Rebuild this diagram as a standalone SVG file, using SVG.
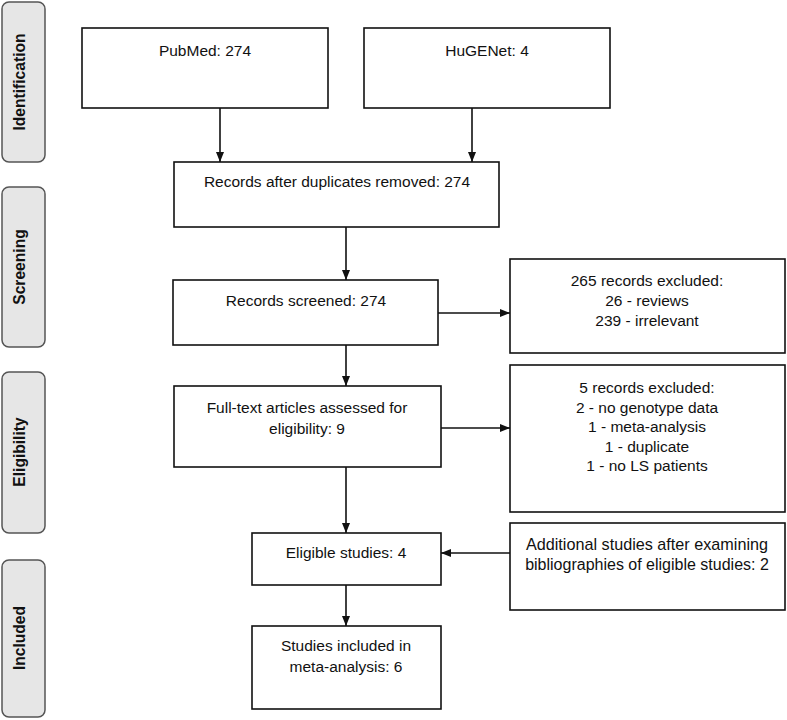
<svg xmlns="http://www.w3.org/2000/svg" width="787" height="720" viewBox="0 0 787 720">
<defs>
<style>
.side{fill:#e6e6e6;stroke:#555;stroke-width:1.5}
.sidet{font-family:"Liberation Sans",Arial,sans-serif;font-weight:bold;font-size:15.6px;fill:#111;text-anchor:middle}
.box{fill:#fff;stroke:#111;stroke-width:1.6}
.t{font-family:"Liberation Sans",Arial,sans-serif;font-size:15.5px;fill:#111;text-anchor:middle}
.c{stroke:#111;stroke-width:1.6;fill:none;marker-end:url(#ah)}
</style>
<marker id="ah" viewBox="0 0 10 10" refX="10" refY="5" markerWidth="10" markerHeight="10" markerUnits="userSpaceOnUse" orient="auto">
<path d="M0,1 L10,5 L0,9 z" fill="#111"/>
</marker>
</defs>
<rect width="787" height="720" fill="#fff"/>
<g id="stage-identification">
<rect class="side" x="2" y="2" width="43" height="160" rx="7"/>
<text class="sidet" transform="translate(25,82) rotate(-90)">Identification</text>
</g>
<g id="stage-screening">
<rect class="side" x="2" y="187" width="43" height="160" rx="7"/>
<text class="sidet" transform="translate(25,267) rotate(-90)">Screening</text>
</g>
<g id="stage-eligibility">
<rect class="side" x="2" y="372" width="43" height="161" rx="7"/>
<text class="sidet" transform="translate(25,452) rotate(-90)">Eligibility</text>
</g>
<g id="stage-included">
<rect class="side" x="2" y="560" width="43" height="157" rx="7"/>
<text class="sidet" transform="translate(25,638) rotate(-90)">Included</text>
</g>
<g id="pubmed">
<rect class="box" x="82" y="28" width="246" height="80"/>
<text class="t" x="205" y="56">PubMed: 274</text>
</g>
<g id="hugenet">
<rect class="box" x="364" y="28" width="246" height="80"/>
<text class="t" x="487" y="56">HuGENet: 4</text>
</g>
<g id="duplicates">
<rect class="box" x="174" y="162" width="325" height="65"/>
<text class="t" x="337" y="187">Records after duplicates removed: 274</text>
</g>
<g id="screened">
<rect class="box" x="173" y="280" width="265" height="65"/>
<text class="t" x="306" y="306">Records screened: 274</text>
</g>
<g id="excluded1">
<rect class="box" x="510" y="259" width="275" height="94"/>
<text class="t" x="647" y="286">265 records excluded:</text>
<text class="t" x="647" y="306">26 - reviews</text>
<text class="t" x="647" y="326">239 - irrelevant</text>
</g>
<g id="fulltext">
<rect class="box" x="174" y="386" width="267" height="81"/>
<text class="t" x="307" y="413">Full-text articles assessed for</text>
<text class="t" x="307" y="434">eligibility: 9</text>
</g>
<g id="excluded2">
<rect class="box" x="510" y="365" width="275" height="147"/>
<text class="t" x="647" y="393">5 records excluded:</text>
<text class="t" x="647" y="413">2 - no genotype data</text>
<text class="t" x="647" y="432">1 - meta-analysis</text>
<text class="t" x="647" y="452">1 - duplicate</text>
<text class="t" x="647" y="471">1 - no LS patients</text>
</g>
<g id="additional">
<rect class="box" x="510" y="523" width="275" height="87"/>
<text class="t" x="647" y="550" style="font-size:16.2px">Additional studies after examining</text>
<text class="t" x="647" y="570" style="font-size:16px">bibliographies of eligible studies: 2</text>
</g>
<g id="eligible">
<rect class="box" x="252" y="533" width="189" height="52"/>
<text class="t" x="346" y="558">Eligible studies: 4</text>
</g>
<g id="included">
<rect class="box" x="252" y="626" width="189" height="83"/>
<text class="t" x="346" y="651">Studies included in</text>
<text class="t" x="346" y="672">meta-analysis: 6</text>
</g>
<g id="connectors">
<line class="c" x1="220" y1="108" x2="220" y2="162"/>
<line class="c" x1="472" y1="108" x2="472" y2="162"/>
<line class="c" x1="346" y1="227" x2="346" y2="280"/>
<line class="c" x1="438" y1="313" x2="510" y2="313"/>
<line class="c" x1="346" y1="345" x2="346" y2="386"/>
<line class="c" x1="441" y1="428" x2="510" y2="428"/>
<line class="c" x1="346" y1="467" x2="346" y2="533"/>
<line class="c" x1="510" y1="553" x2="441" y2="553"/>
<line class="c" x1="346" y1="585" x2="346" y2="626"/>
</g>
</svg>
